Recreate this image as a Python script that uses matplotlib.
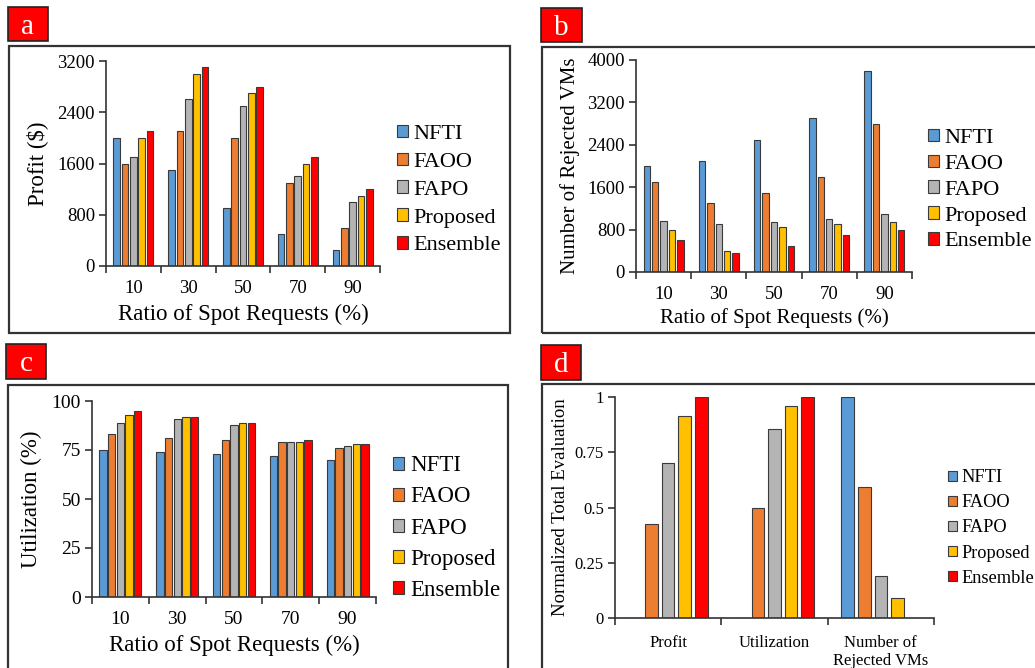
import numpy as np
import matplotlib
matplotlib.use("Agg")
import matplotlib.pyplot as plt
from matplotlib.patches import Rectangle

plt.rcParams['font.family'] = ['Liberation Serif', 'DejaVu Serif']

# ---- data ----
methods = ["NFTI", "FAOO", "FAPO", "Proposed", "Ensemble"]
colors = ["#5B9BD5", "#ED7D31", "#B4B4B4", "#FFC000", "#FF0000"]
ratios = ["10", "30", "50", "70", "90"]

profit = {
    "NFTI":     [2000, 1500, 900, 500, 250],
    "FAOO":     [1600, 2100, 2000, 1300, 600],
    "FAPO":     [1700, 2600, 2500, 1400, 1000],
    "Proposed": [2000, 3000, 2700, 1600, 1100],
    "Ensemble": [2100, 3100, 2800, 1700, 1200],
}
rejected = {
    "NFTI":     [2000, 2100, 2500, 2900, 3800],
    "FAOO":     [1700, 1300, 1500, 1800, 2800],
    "FAPO":     [970, 900, 950, 1000, 1100],
    "Proposed": [800, 400, 850, 900, 950],
    "Ensemble": [600, 350, 500, 700, 800],
}
utilization = {
    "NFTI":     [75, 74, 73, 72, 70],
    "FAOO":     [83, 81, 80, 79, 76],
    "FAPO":     [89, 91, 88, 79, 77],
    "Proposed": [93, 92, 89, 79, 78],
    "Ensemble": [95, 92, 89, 80, 78],
}
eval_cats = ["Profit", "Utilization", "Number of\nRejected VMs"]
normalized = {
    "NFTI":     [0, 0, 1.0],
    "FAOO":     [0.425, 0.5, 0.593],
    "FAPO":     [0.703, 0.857, 0.19],
    "Proposed": [0.913, 0.96, 0.09],
    "Ensemble": [1.0, 1.0, 0],
}

W, H = 1035, 668
fig = plt.figure(figsize=(W / 100, H / 100), dpi=100)


def frac(l, t, r, b):
    return [l / W, 1 - b / H, (r - l) / W, (b - t) / H]


def frame(l, t, r, b):
    fig.patches.append(Rectangle((l / W, 1 - b / H), (r - l) / W, (b - t) / H,
                                 transform=fig.transFigure, fill=False,
                                 edgecolor="#333333", linewidth=1.6, zorder=0))


def tag(letter, l, t, r, b):
    fig.patches.append(Rectangle((l / W, 1 - b / H), (r - l) / W, (b - t) / H,
                                 transform=fig.transFigure, facecolor="#FF0000",
                                 edgecolor="#222222", linewidth=1.2))
    fig.text((l + r) / 2 / W, 1 - (t + b) / 2 / H - 0.004, letter, color="white",
             fontsize=21, ha="center", va="center")


def bar_panel(rect, data, cats, ymax, ystep, ylabel, xlabel, width, stride,
              tick_fs, lab_fs, leg_fs, leg_xy, leg_space, ylabelpad, xlabelpad,
              yfmt=None, xpad=10):
    ax = fig.add_axes(rect)
    x = np.arange(len(cats))
    for i, m in enumerate(methods):
        ax.bar(x + (i - 2) * stride, data[m], width=width, color=colors[i],
               edgecolor="#3a3a3a", linewidth=0.8, label=m, zorder=2)
    ax.set_xlim(-0.5, len(cats) - 0.5)
    ax.set_ylim(0, ymax)
    yt = np.arange(0, ymax + ystep / 2, ystep)
    ax.set_yticks(yt)
    if yfmt:
        ax.set_yticklabels([yfmt(v) for v in yt])
    ax.set_xticks(x)
    ax.set_xticklabels(cats)
    ax.set_xticks(np.arange(len(cats) + 1) - 0.5, minor=True)
    ax.tick_params(axis="x", which="major", length=0, labelsize=tick_fs, pad=xpad)
    ax.tick_params(axis="x", which="minor", length=5, width=1.2, color="#333333")
    ax.tick_params(axis="y", length=5, width=1.2, color="#333333",
                   labelsize=tick_fs, pad=3)
    for s in ["top", "right"]:
        ax.spines[s].set_visible(False)
    for s in ["left", "bottom"]:
        ax.spines[s].set_color("#333333")
        ax.spines[s].set_linewidth(1.2)
    ax.set_ylabel(ylabel, fontsize=lab_fs, labelpad=ylabelpad)
    if xlabel:
        ax.set_xlabel(xlabel, fontsize=lab_fs, labelpad=xlabelpad)
    ax.legend(loc="center left", bbox_to_anchor=(leg_xy[0] / W, 1 - leg_xy[1] / H),
              bbox_transform=fig.transFigure, frameon=False, fontsize=leg_fs,
              handlelength=0.5, handleheight=0.5, handletextpad=0.25,
              labelspacing=leg_space, borderpad=0, borderaxespad=0)
    return ax


# panel a
frame(9, 46, 510, 333)
tag("a", 8, 7, 48, 41)
bar_panel(frac(106, 61, 380, 266), profit, ratios, 3200, 800, "Profit ($)",
          "Ratio of Spot Requests (%)", 0.121, 0.152, 13.5, 16.5, 16,
          (397, 190), 0.39, 7, 5)

# panel b
frame(542, 47, 1040, 333)
tag("b", 541, 8, 582, 42)
bar_panel(frac(636, 60, 912, 272), rejected, ratios, 4000, 800,
          "Number of Rejected VMs", "Ratio of Spot Requests (%)", 0.115, 0.152,
          13.5, 15, 16, (928, 190), 0.30, 5, 4)

# panel c
frame(8, 385, 508, 680)
tag("c", 6, 344, 46, 379)
bar_panel(frac(92, 401, 376, 597), utilization, ratios, 100, 25, "Utilization (%)",
          "Ratio of Spot Requests (%)", 0.13, 0.153, 14, 16.5, 16.5,
          (393, 528), 0.44, 7, 5)

# panel d
frame(542, 384, 1040, 680)
tag("d", 541, 345, 581, 380)
bar_panel(frac(615, 397, 934, 618), normalized, eval_cats, 1, 0.25,
          "Normalized Total Evaluation", None, 0.119, 0.156, 12, 13.5, 13.2,
          (948, 528), 0.44, 4, 4,
          yfmt=lambda v: {0: "0", 0.25: "0.25", 0.5: "0.5", 0.75: "0.75", 1: "1"}[v],
          xpad=12)

fig.savefig("out.png", dpi=100)
